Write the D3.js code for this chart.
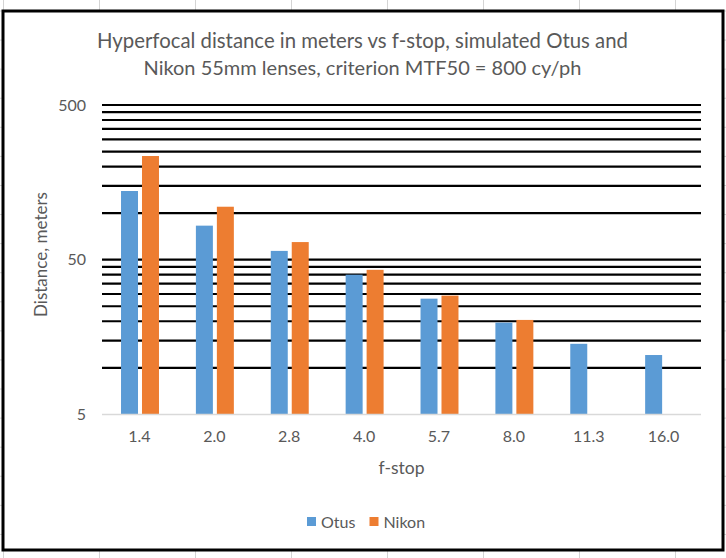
<!DOCTYPE html>
<html>
<head>
<meta charset="utf-8">
<script src="https://cdn.jsdelivr.net/npm/d3@7"></script>
<style>
  html, body { margin: 0; padding: 0; background: #fff; }
  svg { display: block; }
  text { font-family: Lato, "Open Sans", sans-serif; fill: #595959; }
</style>
</head>
<body>
<svg id="chart" width="726" height="558"></svg>
<script>
// ---- data ----
const fstops = ["1.4", "2.0", "2.8", "4.0", "5.7", "8.0", "11.3", "16.0"];
const seriesNames = ["Otus", "Nikon"];
const otus  = [139, 83, 57, 40, 28, 19.6, 14.3, 12.1];
const nikon = [234, 110, 65, 43, 29.3, 20.4, null, null];
const yTicks = [5, 50, 500];
const gridValues = [10, 15, 20, 25, 30, 35, 40, 45, 50,
                    100, 150, 200, 250, 300, 350, 400, 450, 500];
const colors = ["#5B9BD5", "#ED7D31"];
const titleLines = ["Hyperfocal distance in meters vs f-stop, simulated Otus and",
                    "Nikon 55mm lenses, criterion MTF50 = 800 cy/ph"];

const W = 726, H = 558;
const svg = d3.select("#chart");

// ---- spreadsheet background cells ----
const bg = svg.append("g");
for (let x = 3.5; x < W; x += 96) {
  bg.append("line").attr("x1", x).attr("x2", x).attr("y1", 0).attr("y2", H)
    .attr("stroke", "#d4d4d4").attr("stroke-width", 1);
}
for (let y = 11 - 29.08; y < H; y += 29.08) {
  bg.append("line").attr("x1", 0).attr("x2", W).attr("y1", y).attr("y2", y)
    .attr("stroke", "#d4d4d4").attr("stroke-width", 1);
}

// ---- chart frame ----
svg.append("rect").attr("x", 3).attr("y", 11).attr("width", 720).attr("height", 539)
  .attr("fill", "#fff").attr("stroke", "#000").attr("stroke-width", 3);

// ---- scales ----
const plot = { left: 102, right: 701, top: 105, bottom: 414.4 };
const y = d3.scaleLog().domain([5, 500]).range([plot.bottom, plot.top]);
const x0 = d3.scaleBand().domain(fstops).range([plot.left, plot.right]).padding(0);
const bw = x0.bandwidth();
const x1 = d3.scaleBand().domain(seriesNames)
  .range([0.254 * bw, 0.761 * bw]).paddingInner(0.19);

// gridlines
svg.append("g").selectAll("line").data(gridValues).join("line")
  .attr("x1", plot.left).attr("x2", plot.right)
  .attr("y1", d => y(d)).attr("y2", d => y(d))
  .attr("stroke", "#000").attr("stroke-width", 2.2);

// bars
const series = [otus, nikon];
series.forEach((vals, si) => {
  svg.append("g").selectAll("rect")
    .data(vals.map((v, i) => ({ v, c: fstops[i] })).filter(d => d.v != null))
    .join("rect")
    .attr("x", d => x0(d.c) + x1(seriesNames[si]))
    .attr("width", x1.bandwidth())
    .attr("y", d => y(d.v))
    .attr("height", d => plot.bottom - y(d.v))
    .attr("fill", colors[si]);
});

// x axis line
svg.append("line").attr("x1", plot.left).attr("x2", plot.right)
  .attr("y1", plot.bottom).attr("y2", plot.bottom)
  .attr("stroke", "#d9d9d9").attr("stroke-width", 1.5);

// y axis labels
const yAxis = d3.axisLeft(y).tickValues(yTicks).tickFormat(d3.format("d")).tickSize(0).tickPadding(0);
const gy = svg.append("g").attr("transform", `translate(86,0)`).call(yAxis);
gy.select(".domain").remove();
gy.selectAll("text").style("font-size", "16px").attr("fill", "#595959")
  .style("font-family", "Lato, 'Open Sans', sans-serif");

// x axis labels
const xAxis = d3.axisBottom(x0).tickSize(0).tickPadding(0);
const gx = svg.append("g").attr("transform", `translate(0,431)`).call(xAxis);
gx.select(".domain").remove();
gx.selectAll("text").style("font-size", "16px").attr("fill", "#595959")
  .style("font-family", "Lato, 'Open Sans', sans-serif");

// axis titles
svg.append("text").attr("x", (plot.left + plot.right) / 2).attr("y", 474)
  .attr("text-anchor", "middle").style("font-size", "17.5px").text("f-stop");
const yt = svg.append("text").attr("transform", "translate(46.5,254.5) rotate(-90)")
  .attr("text-anchor", "middle").style("font-size", "18px").text("Distance, meters");
const ytw = yt.node().getComputedTextLength();
yt.style("font-size", (18 * 125 / ytw).toFixed(2) + "px");

// title
const titleWidths = [531, 438];
const titleY = [48, 75];
titleLines.forEach((t, i) => {
  const tx = svg.append("text").attr("x", 362.5).attr("y", titleY[i])
    .attr("text-anchor", "middle").style("font-size", "20px").text(t);
  const w = tx.node().getComputedTextLength();
  const fs = 20 * titleWidths[i] / w;
  tx.style("font-size", fs.toFixed(2) + "px");
});

// legend
const legendX = [307, 369.5];
const lg = svg.append("g");
seriesNames.forEach((n, i) => {
  lg.append("rect").attr("x", legendX[i]).attr("y", 517).attr("width", 9).attr("height", 9)
    .attr("fill", colors[i]);
  lg.append("text").attr("x", legendX[i] + 14).attr("y", 527.5)
    .style("font-size", "16px").text(n);
});
</script>
</body>
</html>
